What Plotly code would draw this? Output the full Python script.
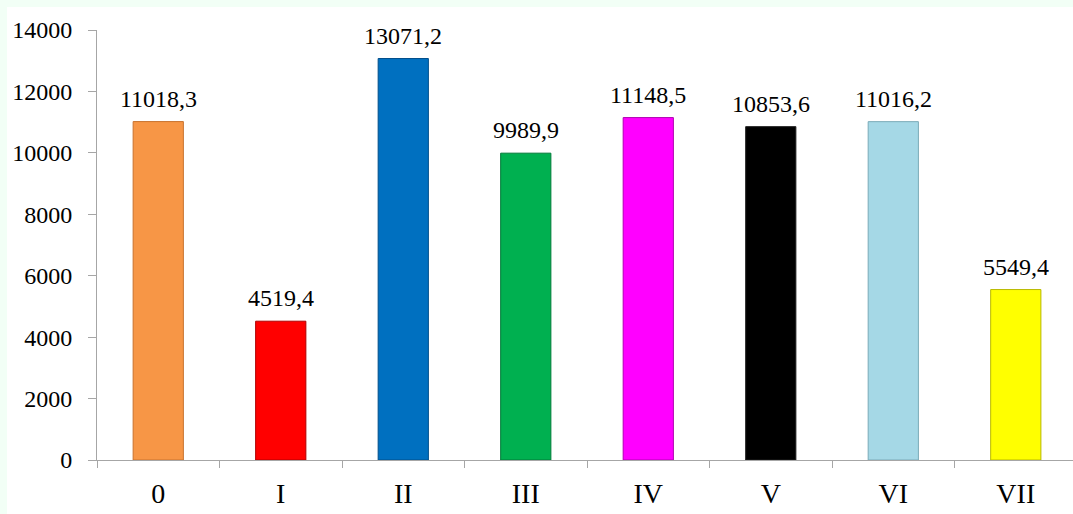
import plotly.graph_objects as go

# Chart data
categories = ["0", "I", "II", "III", "IV", "V", "VI", "VII"]
values = [11018.3, 4519.4, 13071.2, 9989.9, 11148.5, 10853.6, 11016.2, 5549.4]
bar_colors = ["#F79646", "#FF0000", "#0070C0", "#00B050",
              "#FF00FF", "#000000", "#A5D8E6", "#FFFF00"]
edge_colors = ["#C8722E", "#B00000", "#004E8A", "#007A38",
               "#B000B0", "#202020", "#7AAAB8", "#B8B800"]
y_ticks = [0, 2000, 4000, 6000, 8000, 10000, 12000, 14000]

labels = [f"{v:.1f}".replace(".", ",") for v in values]

FONT = "Liberation Serif"

W, H = 1073, 514
ML, MR, MT, MB = 97, 0, 30, 54
PW, PH = W - ML - MR, H - MT - MB
FRAME = 7  # width of the mint strip along top and left edges

fig = go.Figure(
    go.Bar(
        x=categories,
        y=values,
        width=0.41,
        marker=dict(color=bar_colors, line=dict(color=edge_colors, width=1)),
        hoverinfo="skip",
    )
)

# value labels above each bar
for c, v, t in zip(categories, values, labels):
    fig.add_annotation(
        x=c, y=v, text=t, showarrow=False, yanchor="bottom", yshift=8,
        font=dict(family=FONT, size=24, color="#000000"),
    )

# light mint frame along the top and left edges of the page
mint = "#F2FFF6"
fig.add_shape(type="rect", xref="paper", yref="paper",
              x0=-ML / PW, x1=1.0 + 0.01,
              y0=1 + (MT - FRAME) / PH, y1=1 + MT / PH + 0.01,
              fillcolor=mint, line_width=0, layer="below")
fig.add_shape(type="rect", xref="paper", yref="paper",
              x0=-ML / PW - 0.01, x1=-(ML - FRAME) / PW,
              y0=-MB / PH - 0.01, y1=1 + MT / PH + 0.01,
              fillcolor=mint, line_width=0, layer="below")

fig.update_layout(
    width=W,
    height=H,
    margin=dict(l=ML, r=MR, t=MT, b=MB),
    paper_bgcolor="#FFFFFF",
    plot_bgcolor="#FFFFFF",
    showlegend=False,
    bargap=0.59,
    font=dict(family=FONT, color="#000000"),
    xaxis=dict(
        type="category",
        range=[-0.5, 7.467],
        showline=True, linecolor="#A6A6A6", linewidth=1,
        ticks="outside", tickson="boundaries", ticklen=7, tickcolor="#A6A6A6",
        tickfont=dict(family=FONT, size=28, color="#000000"),
        ticklabelstandoff=8,
        showgrid=False, zeroline=False,
    ),
    yaxis=dict(
        range=[0, 14000],
        tickvals=y_ticks,
        ticktext=[str(v) for v in y_ticks],
        showline=True, linecolor="#A6A6A6", linewidth=1,
        ticks="outside", ticklen=8, tickcolor="#A6A6A6",
        tickfont=dict(family=FONT, size=24, color="#000000"),
        ticklabelstandoff=11,
        showgrid=False, zeroline=False,
    ),
)

fig.write_html("out.html")
